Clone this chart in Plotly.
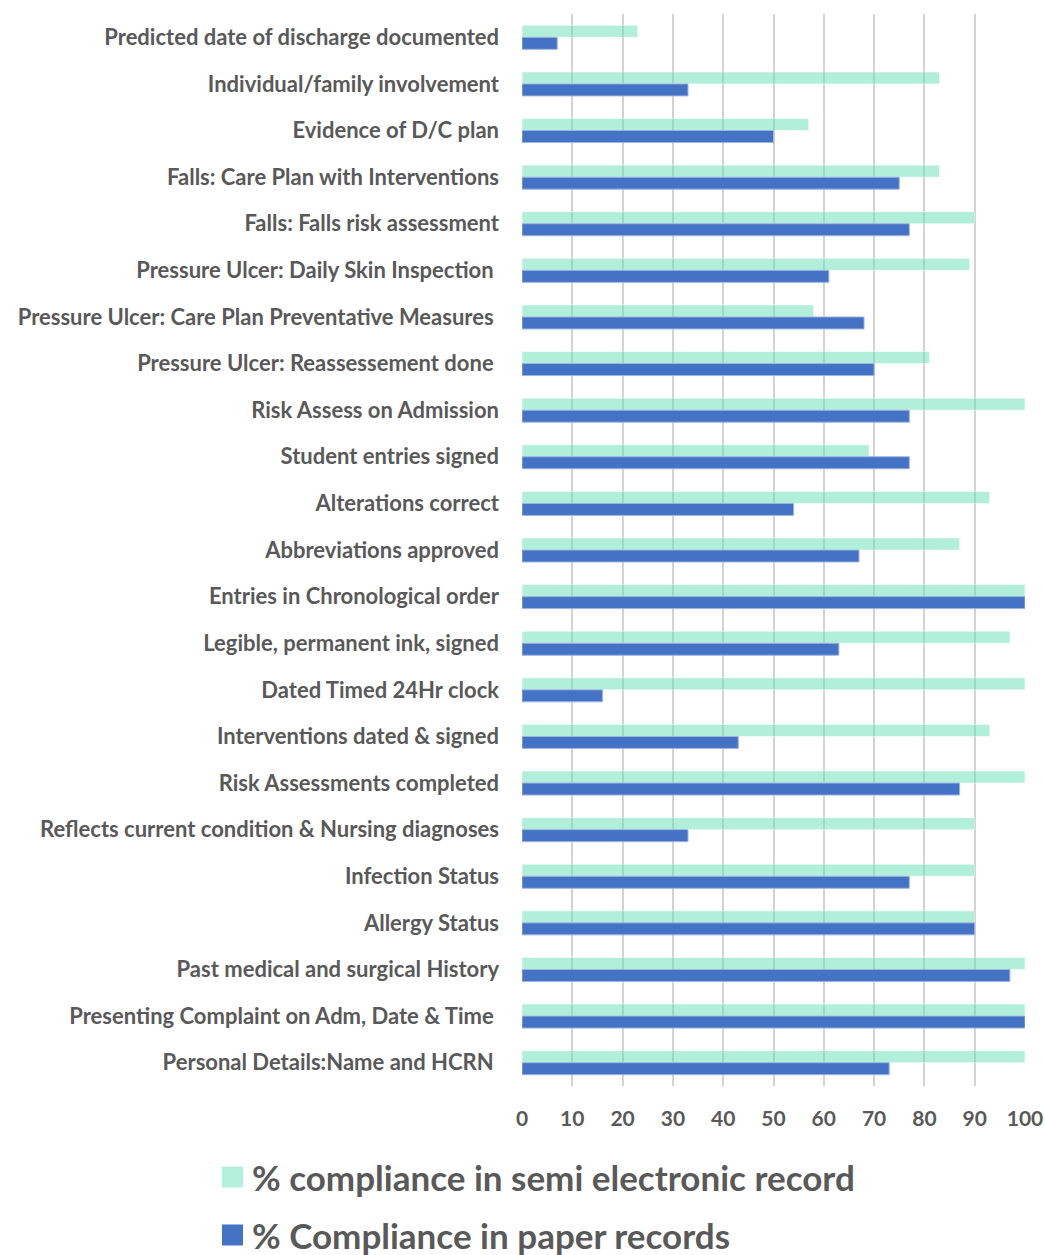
import plotly.graph_objects as go

# Documentation audit items, listed top to bottom
categories = [
    "Predicted date of discharge documented",
    "Individual/family involvement",
    "Evidence of D/C plan",
    "Falls: Care Plan with Interventions",
    "Falls: Falls risk assessment",
    "Pressure Ulcer: Daily Skin Inspection\u00a0",
    "Pressure Ulcer: Care Plan Preventative Measures\u00a0",
    "Pressure Ulcer: Reassessement done\u00a0",
    "Risk Assess on Admission",
    "Student entries signed",
    "Alterations correct",
    "Abbreviations approved",
    "Entries in Chronological order",
    "Legible, permanent ink, signed",
    "Dated Timed 24Hr clock",
    "Interventions dated & signed",
    "Risk Assessments completed",
    "Reflects current condition & Nursing diagnoses",
    "Infection Status",
    "Allergy Status",
    "Past medical and surgical History",
    "Presenting Complaint on Adm, Date & Time\u00a0",
    "Personal Details:Name and HCRN\u00a0",
]

semi_electronic = [23, 83, 57, 83, 90, 89, 58, 81, 100, 69, 93, 87, 100, 97,
                   100, 93, 100, 90, 90, 90, 100, 100, 100]
paper = [7, 33, 50, 75, 77, 61, 68, 70, 77, 77, 54, 67, 100, 63,
         16, 43, 87, 33, 77, 90, 97, 100, 73]

series_names = ["% compliance in semi electronic record",
                "% Compliance in paper records"]

x_ticks = list(range(0, 101, 10))

TEXT = "#595959"
FONT = "Lato"
MINT = "rgba(102,224,184,0.5)"
BLUE = "#4472C4"

W, H = 1045, 1255
L, R, T, B = 522, 20, 14, 169
PW, PH = W - L - R, H - T - B


def px_x(px):
    """Horizontal pixel -> paper fraction of the plot area."""
    return (px - L) / PW


def px_y(py):
    """Vertical pixel (from top) -> paper fraction of the plot area."""
    return (H - B - py) / PH


fig = go.Figure()
fig.add_trace(go.Bar(
    y=categories, x=semi_electronic, orientation="h",
    name=series_names[0],
    marker=dict(color=MINT, line=dict(color="rgba(255,255,255,0.5)", width=1)),
))
fig.add_trace(go.Bar(
    y=categories, x=paper, orientation="h",
    name=series_names[1],
    marker=dict(color=BLUE, line=dict(color="#9DB5E0", width=1)),
))

# Legend below the chart with large square swatches
shapes, annotations = [], []
for i, (name, col) in enumerate(zip(series_names, ["#B3F0DC", BLUE])):
    cy = 1177 + i * 58
    shapes.append(dict(
        type="rect", xref="paper", yref="paper",
        x0=px_x(222), x1=px_x(243), y0=px_y(cy + 10.5), y1=px_y(cy - 10.5),
        fillcolor=col, line=dict(width=0),
    ))
    annotations.append(dict(
        xref="paper", yref="paper", x=px_x(250), y=px_y(cy),
        xanchor="left", yanchor="middle", showarrow=False,
        text=name,
        font=dict(family=FONT, size=35, color=TEXT, weight="bold"),
    ))

fig.update_layout(
    width=W, height=H,
    margin=dict(l=L, r=R, t=T, b=B, autoexpand=False),
    barmode="group",
    bargap=0.485,
    bargroupgap=0,
    plot_bgcolor="white",
    paper_bgcolor="white",
    font=dict(family=FONT, color=TEXT),
    showlegend=False,
    shapes=shapes,
    annotations=annotations,
)

fig.update_xaxes(
    range=[0, 100],
    tickvals=x_ticks,
    automargin=False,
    showgrid=True, gridcolor="#D3D3D3", gridwidth=1.6,
    zeroline=False,
    showline=False,
    ticks="",
    ticklabelstandoff=18,
    tickfont=dict(family=FONT, size=21, color=TEXT, weight="bold"),
)
fig.update_yaxes(
    autorange="reversed",
    automargin=False,
    showgrid=False,
    showline=False,
    ticks="",
    ticklabelstandoff=22,
    tickfont=dict(family=FONT, size=22, color=TEXT, weight="bold"),
)

fig.write_html("out.html")
